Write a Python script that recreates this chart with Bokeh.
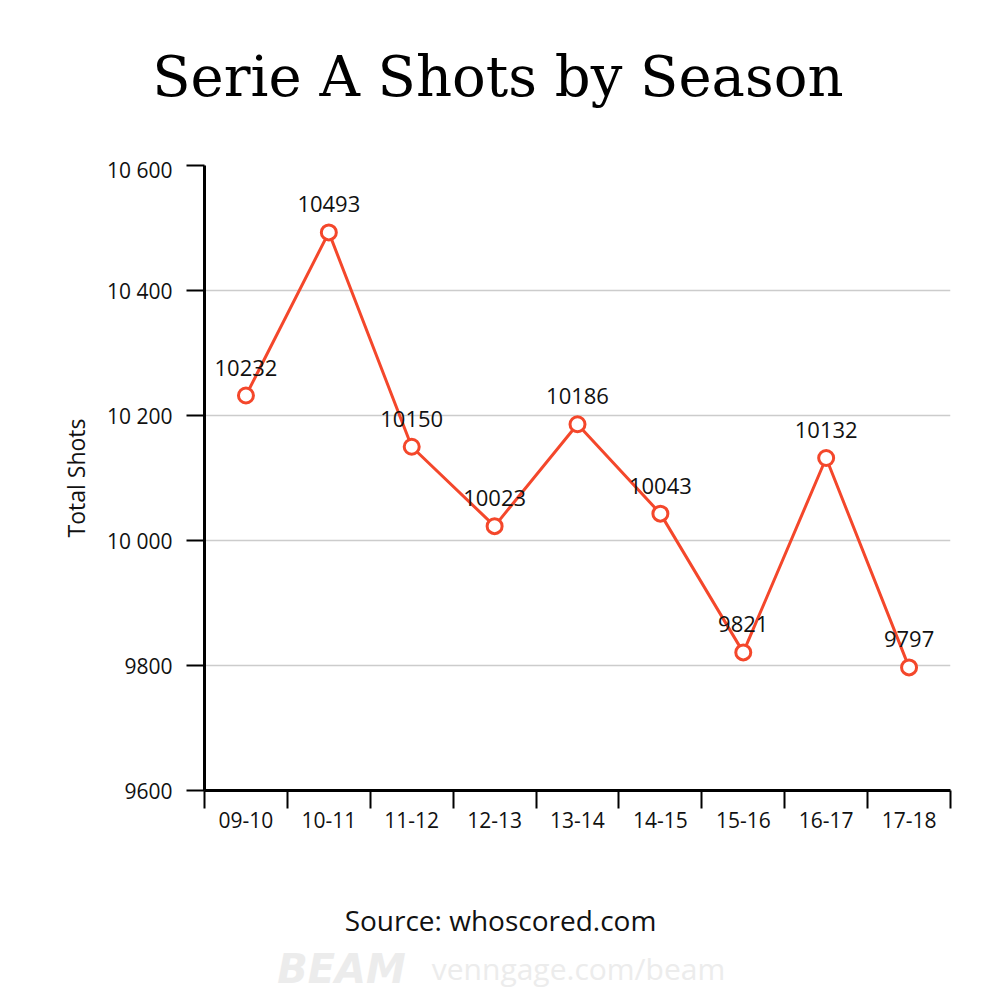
from bokeh.plotting import figure
from bokeh.models import Range1d, FixedTicker, ColumnDataSource
from bokeh.layouts import column
from bokeh.core.properties import value
from bokeh.embed import file_html
from bokeh.resources import INLINE

seasons = ["09-10", "10-11", "11-12", "12-13", "13-14", "14-15", "15-16", "16-17", "17-18"]
shots = [10232, 10493, 10150, 10023, 10186, 10043, 9821, 10132, 9797]
y_ticks = [9600, 9800, 10000, 10200, 10400, 10600]
y_tick_labels = ["9600", "9800", "10 000", "10 200", "10 400", "10 600"]
title_text = "Serie A Shots by Season"
source_text = "Source: whoscored.com"
brand_text = "BEAM"
brand_url = "venngage.com/beam"

FONT = "Open Sans"
RED = "#F4472B"
W = 992
LEFT, RIGHT = 204, 42

# header holding the title (frames of the column are aligned)
head = figure(width=W, height=155, output_backend="svg", toolbar_location=None,
              x_range=Range1d(0, 1), y_range=Range1d(0, 1),
              x_axis_location=None, y_axis_location=None,
              min_border_left=LEFT, min_border_right=RIGHT, min_border_top=0, min_border_bottom=0)
head.grid.grid_line_color = None
head.outline_line_color = None
head.title.text = title_text
head.title.align = "right"
head.title.offset = 107
head.title.text_font = "DejaVu Serif"
head.title.text_font_size = "56px"
head.title.text_font_style = "normal"
head.title.text_color = "black"
head.title.standoff = 82

# main chart
xs = [i + 0.5 for i in range(len(seasons))]
src = ColumnDataSource(dict(x=xs, y=shots, lab=[str(v) for v in shots]))

p = figure(width=W, height=695, output_backend="svg", toolbar_location=None,
           x_range=Range1d(0, len(seasons)), y_range=Range1d(y_ticks[0], y_ticks[-1]),
           min_border_left=LEFT, min_border_right=RIGHT, min_border_top=10, min_border_bottom=60)
p.outline_line_color = None

p.yaxis.ticker = FixedTicker(ticks=y_ticks)
p.yaxis.major_label_overrides = {t: l for t, l in zip(y_ticks, y_tick_labels)}
p.yaxis.axis_line_width = 3
p.yaxis.axis_line_color = "black"
p.yaxis.major_tick_out = 18
p.yaxis.major_tick_in = 0
p.yaxis.major_tick_line_width = 2
p.yaxis.minor_tick_line_color = None
p.yaxis.major_label_text_font = FONT
p.yaxis.major_label_text_font_size = "21px"
p.yaxis.major_label_text_color = "#111111"
p.yaxis.major_label_standoff = 14
p.yaxis.axis_label = "Total Shots"
p.yaxis.axis_label_text_font = FONT
p.yaxis.axis_label_text_font_size = "23px"
p.yaxis.axis_label_text_font_style = "normal"
p.yaxis.axis_label_text_color = "#111111"
p.yaxis.axis_label_standoff = 12

p.xaxis.ticker = FixedTicker(ticks=xs, minor_ticks=list(range(len(seasons) + 1)))
p.xaxis.major_label_overrides = {x: s for x, s in zip(xs, seasons)}
p.xaxis.axis_line_width = 3
p.xaxis.axis_line_color = "black"
p.xaxis.major_tick_line_color = None
p.xaxis.major_tick_out = 0
p.xaxis.major_tick_in = 0
p.xaxis.minor_tick_out = 18
p.xaxis.minor_tick_in = 0
p.xaxis.minor_tick_line_width = 2
p.xaxis.minor_tick_line_color = "black"
p.xaxis.major_label_text_font = FONT
p.xaxis.major_label_text_font_size = "21px"
p.xaxis.major_label_text_color = "#111111"
p.xaxis.major_label_standoff = 3

p.xgrid.grid_line_color = None
p.ygrid.ticker = FixedTicker(ticks=y_ticks[1:])
p.ygrid.grid_line_color = "#cccccc"
p.ygrid.grid_line_width = 1.5

p.line("x", "y", source=src, line_color=RED, line_width=3)
p.scatter("x", "y", source=src, size=15, fill_color="white", line_color=RED, line_width=3)
p.text("x", "y", text="lab", source=src, y_offset=-28, text_align="center", text_baseline="middle",
       text_font=value(FONT), text_font_size="22px", text_color="#111111")

# footer (its frame is aligned with the chart frame by the column layout)
FH = 142
foot = figure(width=W, height=FH, output_backend="svg", toolbar_location=None,
              x_range=Range1d(LEFT, W - RIGHT), y_range=Range1d(FH, 0),
              x_axis_location=None, y_axis_location=None,
              min_border_left=LEFT, min_border_right=RIGHT, min_border_top=0, min_border_bottom=0)
foot.grid.grid_line_color = None
foot.outline_line_color = None
foot.text(x=[500], y=[69], text=[source_text], text_align="center", text_baseline="middle",
          text_font=value(FONT), text_font_size="28px", text_color="#111111")
foot.text(x=[341], y=[118], text=[brand_text], text_align="center", text_baseline="middle",
          text_font=value("DejaVu Sans"), text_font_size="40px", text_font_style="bold italic",
          text_color="#ececec")
foot.text(x=[578], y=[118], text=[brand_url], text_align="center", text_baseline="middle",
          text_font=value(FONT), text_font_size="30px", text_color="#ececec")

layout = column(head, p, foot, spacing=0)
open("out.html", "w").write(file_html(layout, INLINE))
